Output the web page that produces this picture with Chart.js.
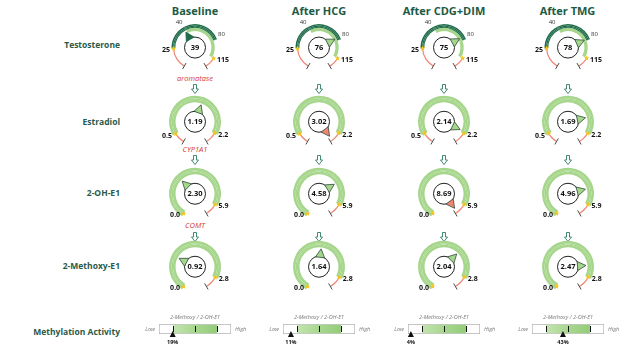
<!DOCTYPE html>
<html>
<head>
<meta charset="utf-8">
<script src="https://cdn.jsdelivr.net/npm/chart.js@4.4.1/dist/chart.umd.min.js"></script>
<style>
  body { margin: 0; background: #fff; font-family: "Open Sans", sans-serif; }
  #wrap { position: relative; width: 644px; height: 364px; overflow: hidden; }
  .abs { position: absolute; white-space: nowrap; line-height: 1; }
  .title { font-weight: 700; font-size: 11px; color: #1d5a43; transform: translate(-50%, -50%); }
  .row { font-weight: 700; font-size: 8.5px; color: #2b5a49; transform: translate(-100%, -50%); }
  .enzyme { font-style: italic; font-size: 7.5px; color: #d8392e; transform: translate(-50%, -50%); }
  svg.arrow { position: absolute; overflow: visible; }
  canvas { position: absolute; }
</style>
</head>
<body>
<div id="wrap"></div>
<script>
const columns = ['Baseline', 'After HCG', 'After CDG+DIM', 'After TMG'];
const analytes = ['Testosterone', 'Estradiol', '2-OH-E1', '2-Methoxy-E1', 'Methylation Activity'];
const enzymes = ['aromatase', 'CYP1A1', 'COMT'];

// measured values per column
const testosterone = [39, 76, 75, 78];
const estradiol = [1.19, 3.02, 2.14, 1.69];
const hydroxyE1 = [2.30, 4.58, 8.69, 4.96];
const methoxyE1 = [0.92, 1.64, 2.04, 2.47];
const methylation = [19, 11, 4, 43];

// reference ranges
const testosteroneOuter = [25, 80];
const testosteroneInner = [40, 115];
const estradiolRange = [0.5, 2.2];
const hydroxyRange = [0.0, 5.9];
const methoxyRange = [0.0, 2.8];
const dialEnds = [[16.5, 143], [0.42, 2.64], [0, 6.6], [0, 3.14]];
const logDial = [true, true, false, false];

const methylationLabel = '2-Methoxy / 2-OH-E1';
const methylationNormal = [20, 80];
const methylationTicks = [20, 50, 80];

const LIGHT = '#a6d68b', DARK = '#1f6c49', RED = '#ef8573', NONE = 'rgba(0,0,0,0)';
const colX = [195, 319, 444, 567.5];
const rowY = [47.5, 121.5, 193.5, 266.5];
const wrap = document.getElementById('wrap');

function addText(cls, text, x, y) {
  const d = document.createElement('div');
  d.className = 'abs ' + cls;
  d.textContent = text;
  d.style.left = x + 'px';
  d.style.top = y + 'px';
  wrap.appendChild(d);
}

function addArrow(x, y) {
  const ns = 'http://www.w3.org/2000/svg';
  const svg = document.createElementNS(ns, 'svg');
  svg.setAttribute('class', 'arrow');
  svg.setAttribute('width', 8);
  svg.setAttribute('height', 10);
  svg.style.left = (x - 4) + 'px';
  svg.style.top = (y - 5) + 'px';
  const p = document.createElementNS(ns, 'path');
  p.setAttribute('d', 'M2.5,0.5 H5.5 V5 H7.5 L4,9.5 L0.5,5 H2.5 Z');
  p.setAttribute('fill', 'none');
  p.setAttribute('stroke', '#2e7d61');
  p.setAttribute('stroke-width', '0.9');
  svg.appendChild(p);
  wrap.appendChild(svg);
}

columns.forEach((c, i) => addText('title', c, colX[i], 10));
[44.5, 121.7, 193.3, 265.7, 331.7].forEach((y, i) => addText('row', analytes[i], 120, y));
[79, 150, 226].forEach((y, i) => addText('enzyme', enzymes[i], colX[0], y));
[88.5, 160, 237].forEach(y => colX.forEach(x => addArrow(x, y)));

function star(ctx, x, y, r) {
  ctx.beginPath();
  for (let k = 0; k < 10; k++) {
    const a = -Math.PI / 2 + k * Math.PI / 5;
    const rr = k % 2 ? r * 0.45 : r;
    ctx.lineTo(x + rr * Math.cos(a), y + rr * Math.sin(a));
  }
  ctx.closePath();
  ctx.fill();
}

function drawGauge(chart, spec) {
  const ctx = chart.ctx;
  const red = chart.getDatasetMeta(spec.redIndex).data;
  const ptr = chart.getDatasetMeta(spec.ptrIndex).data[0];
  const outer = chart.getDatasetMeta(0).data[0].outerRadius;
  const cx = red[0].x, cy = red[0].y;
  const rMid = (red[0].innerRadius + red[0].outerRadius) / 2;
  const pt = (a, r) => [cx + r * Math.cos(a), cy + r * Math.sin(a)];
  const segs = chart.data.datasets[spec.redIndex].data;
  ctx.save();
  ctx.strokeStyle = '#4a4a4a';
  ctx.lineWidth = 1;
  const cap = a => {
    ctx.beginPath();
    ctx.moveTo(...pt(a, rMid - 3.5));
    ctx.lineTo(...pt(a, rMid + 3.5));
    ctx.stroke();
  };
  if (segs[0] > 0) cap(red[0].startAngle);
  if (segs[segs.length - 1] > 0) cap(red[red.length - 1].endAngle);

  // range markers and labels
  spec.marks.forEach(m => {
    const a = red[m.at].startAngle;
    const [x, y] = pt(a, rMid);
    ctx.fillStyle = '#f6c31b';
    star(ctx, x, y, 2.8);
    ctx.fillStyle = '#111';
    ctx.font = '700 7px "Open Sans"';
    ctx.textBaseline = 'middle';
    if (Math.cos(a) < 0) { ctx.textAlign = 'right'; ctx.fillText(m.text, x - 3.5, y + 2); }
    else { ctx.textAlign = 'left'; ctx.fillText(m.text, x + 3.5, y + 2); }
  });
  (spec.minor || []).forEach(m => {
    const a = red[m.at].startAngle - 0.1;
    const [x, y] = pt(a, outer + 6);
    ctx.fillStyle = '#333';
    ctx.font = '400 6px "Open Sans"';
    ctx.textAlign = 'center';
    ctx.textBaseline = 'middle';
    ctx.fillText(m.text, x, y);
  });

  // center bubble
  ctx.beginPath();
  ctx.arc(cx, cy, 10.5, 0, Math.PI * 2);
  ctx.fillStyle = '#fff';
  ctx.fill();
  ctx.strokeStyle = '#222';
  ctx.stroke();

  // pointer
  const a = ptr.endAngle;
  const ux = Math.cos(a), uy = Math.sin(a);
  const bx = cx + ux * 9.5, by = cy + uy * 9.5;
  ctx.beginPath();
  ctx.moveTo(bx - uy * 4.5, by + ux * 4.5);
  ctx.lineTo(bx + uy * 4.5, by - ux * 4.5);
  ctx.lineTo(cx + ux * 18, cy + uy * 18);
  ctx.closePath();
  ctx.fillStyle = spec.ptrColor;
  ctx.fill();
  ctx.strokeStyle = spec.ptrColor === DARK ? DARK : '#2f4b3a';
  ctx.lineWidth = 0.8;
  ctx.stroke();

  ctx.fillStyle = '#111';
  ctx.font = '700 7.5px "Open Sans"';
  ctx.textAlign = 'center';
  ctx.textBaseline = 'middle';
  ctx.fillText(spec.valueText, cx, cy + 0.5);
  ctx.restore();
}

function makeGauge(row, col, value) {
  const t = logDial[row] ? Math.log : (v => v);
  const [dMin, dMax] = dialEnds[row];
  let points, rings, marks, minor = null, radius, cutout, redIndex;
  if (row === 0) {
    points = [dMin, testosteroneOuter[0], testosteroneInner[0], testosteroneOuter[1], testosteroneInner[1], dMax];
    rings = [
      { w: 1.5, c: [NONE, DARK, DARK, NONE, NONE] },
      { w: 1.2, c: [RED, DARK, DARK, NONE, RED] },
      { w: 1.1, c: [NONE, DARK, DARK, NONE, NONE] },
      { w: 3.3, c: [NONE, NONE, LIGHT, LIGHT, NONE] }
    ];
    marks = [{ at: 1, text: String(points[1]) }, { at: 4, text: String(points[4]) }];
    minor = [{ at: 2, text: String(points[2]) }, { at: 3, text: String(points[3]) }];
    radius = 23.5; cutout = '70%'; redIndex = 1;
  } else {
    const range = [estradiolRange, hydroxyRange, methoxyRange][row - 1];
    points = [dMin, range[0], range[1], dMax];
    rings = [
      { w: 2.6, c: [NONE, LIGHT, NONE] },
      { w: 1.3, c: [RED, LIGHT, RED] },
      { w: 2.6, c: [NONE, LIGHT, NONE] }
    ];
    marks = [{ at: 1, text: range[0].toFixed(1) }, { at: 2, text: range[1].toFixed(1) }];
    radius = 26; cutout = '75%'; redIndex = 1;
  }
  const segs = [];
  for (let i = 1; i < points.length; i++) segs.push(Math.max(t(points[i]) - t(points[i - 1]), 0));
  const tMin = t(dMin), tMax = t(dMax), span = tMax - tMin;
  const tv = Math.min(Math.max(t(value), tMin + 0.02 * span), tMax - 0.02 * span);

  // pointer colour: innermost coloured ring at the value's segment
  let s = 0;
  while (s < segs.length - 1 && value >= points[s + 1]) s++;
  let ptrColor = RED;
  for (let k = rings.length - 1; k >= 0; k--) {
    const c = rings[k].c[s];
    if (c !== NONE && c !== RED) { ptrColor = c; break; }
  }

  const datasets = rings.map(r => ({ data: segs, backgroundColor: r.c, weight: r.w, borderWidth: 0 }));
  datasets.push({ data: [tv - tMin, tMax - tv], backgroundColor: [NONE, NONE], weight: 0, borderWidth: 0 });

  const canvas = document.createElement('canvas');
  canvas.width = 110; canvas.height = 84;
  wrap.appendChild(canvas);
  const spec = { redIndex, ptrIndex: datasets.length - 1, marks, minor, ptrColor,
    valueText: row === 0 ? String(value) : value.toFixed(2) };
  const chart = new Chart(canvas, {
    type: 'doughnut',
    data: { labels: segs.map((_, i) => 'seg' + i), datasets },
    options: {
      responsive: false, animation: false, events: [],
      rotation: -150, circumference: 300, radius, cutout, spacing: 0,
      plugins: { legend: { display: false }, tooltip: { enabled: false } }
    },
    plugins: [{ id: 'gaugeMarks', afterDatasetsDraw: ch => drawGauge(ch, spec) }]
  });
  const arc = chart.getDatasetMeta(0).data[0];
  canvas.style.left = (colX[col] - arc.x) + 'px';
  canvas.style.top = (rowY[row] - arc.y) + 'px';
}

[testosterone, estradiol, hydroxyE1, methoxyE1].forEach((vals, row) =>
  vals.forEach((v, col) => makeGauge(row, col, v)));

function makeMethylation(col, value) {
  const canvas = document.createElement('canvas');
  canvas.width = 140; canvas.height = 40;
  canvas.style.left = (colX[col] - 70) + 'px';
  canvas.style.top = '312px';
  wrap.appendChild(canvas);
  new Chart(canvas, {
    type: 'bar',
    data: {
      labels: [methylationLabel],
      datasets: [
        { data: [methylationNormal], barThickness: 8, grouped: false, borderWidth: 0,
          backgroundColor: c => {
            const { ctx, chartArea, scales } = c.chart;
            if (!chartArea) return LIGHT;
            const x0 = scales.x.getPixelForValue(methylationNormal[0]);
            const x1 = scales.x.getPixelForValue(methylationNormal[1]);
            const g = ctx.createLinearGradient(x0, 0, x1, 0);
            g.addColorStop(0, '#c3e4b0');
            g.addColorStop(0.5, '#a8d78f');
            g.addColorStop(1, '#94cc7a');
            return g;
          } },
        { data: [[0, 100]], barThickness: 10, grouped: false, backgroundColor: '#fff',
          borderColor: '#b3b3b3', borderWidth: 1, borderSkipped: false }
      ]
    },
    options: {
      indexAxis: 'y', responsive: false, animation: false, events: [],
      layout: { padding: { left: 34, right: 34, top: 12, bottom: 18 } },
      scales: { x: { display: false, min: 0, max: 100 }, y: { display: false } },
      plugins: { legend: { display: false }, tooltip: { enabled: false } }
    },
    plugins: [{
      id: 'methylMarks',
      afterDatasetsDraw(ch) {
        const { ctx, chartArea, scales } = ch;
        const cy = (chartArea.top + chartArea.bottom) / 2;
        ctx.save();
        ctx.strokeStyle = '#111';
        ctx.lineWidth = 1;
        methylationTicks.forEach(v => {
          const x = Math.round(scales.x.getPixelForValue(v)) + 0.5;
          ctx.beginPath();
          ctx.moveTo(x, cy - 3);
          ctx.lineTo(x, cy + 3);
          ctx.stroke();
        });
        const px = scales.x.getPixelForValue(value);
        ctx.fillStyle = '#111';
        ctx.beginPath();
        ctx.moveTo(px, cy + 2);
        ctx.lineTo(px + 3, cy + 8);
        ctx.lineTo(px - 3, cy + 8);
        ctx.closePath();
        ctx.fill();
        ctx.textAlign = 'center';
        ctx.textBaseline = 'middle';
        ctx.font = '700 5.5px "Open Sans"';
        ctx.fillText(value + '%', px, cy + 13);
        ctx.fillStyle = '#777';
        ctx.font = 'italic 400 5.5px "Open Sans"';
        ctx.fillText(methylationLabel, (chartArea.left + chartArea.right) / 2, chartArea.top - 7);
        ctx.textAlign = 'right';
        ctx.fillText('Low', chartArea.left - 4, cy);
        ctx.textAlign = 'left';
        ctx.fillText('High', chartArea.right + 4, cy);
        ctx.restore();
      }
    }]
  });
}
methylation.forEach((v, col) => makeMethylation(col, v));
</script>
</body>
</html>
